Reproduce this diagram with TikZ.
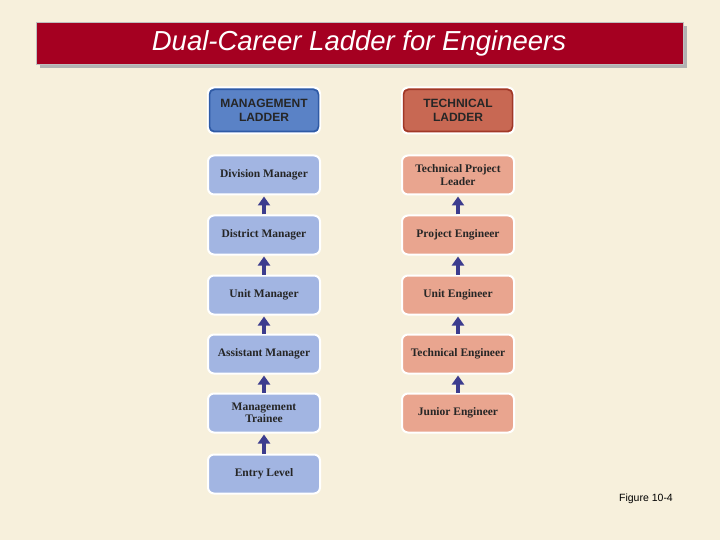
\documentclass[tikz,border=0pt]{standalone}
\usepackage{fontspec}
\setmainfont{Liberation Serif}
\setsansfont{Liberation Sans}
\usetikzlibrary{arrows.meta}
\definecolor{bg}{HTML}{F7F0DC}
\definecolor{titlered}{HTML}{A50021}
\definecolor{mhead}{HTML}{5A82C6}
\definecolor{mheadd}{HTML}{2F5AA5}
\definecolor{mrow}{HTML}{A2B5E2}
\definecolor{thead}{HTML}{C86853}
\definecolor{theadd}{HTML}{A03828}
\definecolor{trow}{HTML}{E9A58F}
\definecolor{arr}{HTML}{3C3C8E}
\tikzset{
 x=1pt,y=-1pt,
 rowbox/.style={rounded corners=6pt,draw=white,line width=2pt,minimum width=112pt,align=center,inner sep=1pt,font=\fontsize{11.5}{12.5}\selectfont\bfseries,text=black!85},
 mbox/.style={rowbox,fill=mrow,minimum height=39pt},
 tbox/.style={rowbox,fill=trow,minimum height=39pt},
 hbox/.style={rowbox,minimum height=46pt,font=\sffamily\fontsize{12}{14}\selectfont\bfseries},
 up/.style={-{Triangle[width=12pt,length=9pt]},line width=4.5pt,draw=arr},
}
\begin{document}
\begin{tikzpicture}
\useasboundingbox (0,0) rectangle (720,540);
\fill[bg] (0,0) rectangle (720,540);
\fill[gray!60] (40,26) rectangle (687,68);
\node[draw=gray!50,fill=titlered,minimum width=647pt,minimum height=42pt,anchor=north west,inner sep=0pt] (title) at (36,22) {};
\node[text=white,font=\sffamily\itshape\fontsize{27.5}{30}\selectfont] (tt) at (359,43) {Dual-Career Ladder for Engineers};
\node[hbox,fill=mhead] (mh) at (264,110.5) {MANAGEMENT\\LADDER};
\draw[mheadd,line width=1.5pt,rounded corners=5pt] (209.5,89.5) rectangle (318.5,131.5);
\node[hbox,fill=thead] (th) at (458,110.5) {TECHNICAL\\LADDER};
\draw[theadd,line width=1.5pt,rounded corners=5pt] (403.5,89.5) rectangle (512.5,131.5);
\node[mbox] (m1) at (264,175) {Division Manager};
\node[mbox] (m2) at (264,235) {District Manager};
\node[mbox] (m3) at (264,295) {Unit Manager};
\node[mbox] (m4) at (264,354) {Assistant Manager};
\node[mbox] (m5) at (264,413) {Management\\Trainee};
\node[mbox] (m6) at (264,474) {Entry Level};
\node[tbox] (t1) at (458,175) {Technical Project\\Leader};
\node[tbox] (t2) at (458,235) {Project Engineer};
\node[tbox] (t3) at (458,295) {Unit Engineer};
\node[tbox] (t4) at (458,354) {Technical Engineer};
\node[tbox] (t5) at (458,413) {Junior Engineer};
\foreach \a/\b in {m2/m1,m3/m2,m4/m3,m5/m4,m6/m5,t2/t1,t3/t2,t4/t3,t5/t4}
  \draw[up] (\a.north) -- ([yshift=-1pt]\b.south);
\node[font=\sffamily\fontsize{10.5}{12}\selectfont] (fig) at (646,499) {Figure 10-4};
\end{tikzpicture}
\end{document}
